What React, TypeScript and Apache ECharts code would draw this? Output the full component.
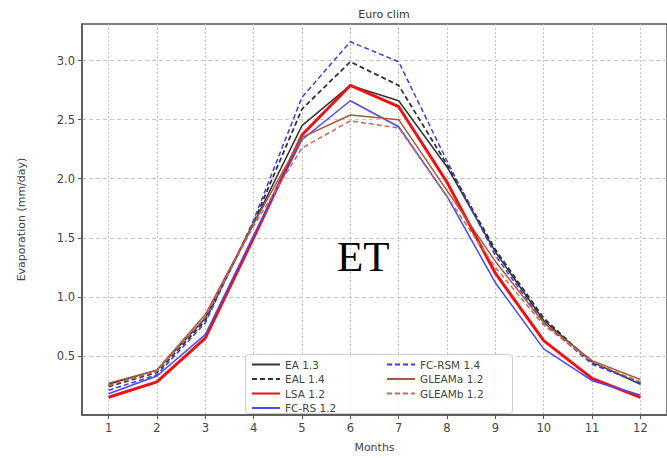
import React, { useEffect, useRef } from "react";
import * as echarts from "echarts";

const months = [1, 2, 3, 4, 5, 6, 7, 8, 9, 10, 11, 12];
const yTicks = [0.5, 1.0, 1.5, 2.0, 2.5, 3.0];

const ea13 = [0.26, 0.38, 0.82, 1.62, 2.45, 2.79, 2.66, 2.1, 1.38, 0.8, 0.45, 0.26];
const eal14 = [0.24, 0.36, 0.8, 1.63, 2.59, 2.99, 2.79, 2.12, 1.4, 0.82, 0.44, 0.27];
const lsa12 = [0.15, 0.28, 0.65, 1.5, 2.37, 2.79, 2.61, 1.97, 1.2, 0.63, 0.31, 0.15];
const fcrs12 = [0.18, 0.33, 0.68, 1.52, 2.33, 2.66, 2.44, 1.85, 1.12, 0.56, 0.29, 0.17];
const fcrsm14 = [0.21, 0.34, 0.78, 1.65, 2.69, 3.16, 2.99, 2.15, 1.35, 0.78, 0.43, 0.27];
const gleamA12 = [0.27, 0.38, 0.85, 1.62, 2.35, 2.54, 2.5, 1.9, 1.3, 0.78, 0.46, 0.3];
const gleamB12 = [0.25, 0.37, 0.83, 1.6, 2.26, 2.49, 2.43, 1.85, 1.25, 0.76, 0.45, 0.28];

const seriesDefs = [
  { name: "EA 1.3", data: ea13, color: "#333333", width: 1.5, type: "solid" },
  { name: "EAL 1.4", data: eal14, color: "#333333", width: 1.8, type: [5, 3] },
  { name: "LSA 1.2", data: lsa12, color: "#ee1111", width: 3, type: "solid" },
  { name: "FC-RS 1.2", data: fcrs12, color: "#4a4af2", width: 1.5, type: "solid" },
  { name: "FC-RSM 1.4", data: fcrsm14, color: "#3c3cee", width: 1.5, type: [5, 3] },
  { name: "GLEAMa 1.2", data: gleamA12, color: "#a65a3c", width: 1.5, type: "solid" },
  { name: "GLEAMb 1.2", data: gleamB12, color: "#c46a5e", width: 1.5, type: [5, 3] },
];

const FONT = "DejaVu Sans";

export default function App() {
  const ref = useRef<HTMLDivElement>(null);
  useEffect(() => {
    if (!ref.current) return;
    const chart = echarts.init(ref.current, null, { renderer: "svg" });
    const legendCommon = {
      orient: "vertical",
      itemWidth: 28,
      itemHeight: 10,
      itemGap: 3.5,
      itemStyle: { opacity: 0 },
      textStyle: { fontFamily: FONT, fontSize: 10.5, color: "#444" },
      padding: 0,
      z: 5,
    };
    chart.setOption({
      animation: false,
      backgroundColor: "#ffffff",
      title: {
        text: "Euro clim",
        left: 379,
        top: 4,
        textAlign: "center",
        textStyle: { fontFamily: FONT, fontSize: 11, fontWeight: "normal", color: "#333" },
      },
      grid: {
        left: 82,
        top: 24,
        width: 597,
        height: 394,
        show: true,
        borderColor: "#555",
        borderWidth: 1.5,
        backgroundColor: "transparent",
      },
      legend: [
        { ...legendCommon, left: 251, top: 359, data: ["EA 1.3", "EAL 1.4", "LSA 1.2", "FC-RS 1.2"] },
        { ...legendCommon, left: 386, top: 359, data: ["FC-RSM 1.4", "GLEAMa 1.2", "GLEAMb 1.2"] },
      ],
      xAxis: {
        type: "value",
        min: 0.45,
        max: 12.55,
        name: "Months",
        nameLocation: "middle",
        nameGap: 27,
        nameTextStyle: { fontFamily: FONT, fontSize: 11, color: "#444" },
        axisLine: { show: true, lineStyle: { color: "#555", width: 1.5 } },
        axisTick: { show: true, customValues: months, length: 4, lineStyle: { color: "#555" } },
        axisLabel: {
          customValues: months,
          fontFamily: FONT,
          fontSize: 11.5,
          color: "#444",
          margin: 7,
        },
        splitLine: { show: true, lineStyle: { color: "#c4c4c4", type: [2, 2], width: 1 } },
      },
      yAxis: {
        type: "value",
        min: 0,
        max: 3.31,
        name: "Evaporation (mm/day)",
        nameLocation: "middle",
        nameGap: 55,
        nameTextStyle: { fontFamily: FONT, fontSize: 11, color: "#444" },
        axisLine: { show: true, lineStyle: { color: "#555", width: 1.5 } },
        axisTick: { show: true, customValues: yTicks, length: 4, lineStyle: { color: "#555" } },
        axisLabel: {
          customValues: yTicks,
          fontFamily: FONT,
          fontSize: 11.5,
          color: "#444",
          margin: 7,
          formatter: (v: number) => v.toFixed(1),
        },
        splitLine: { show: true, lineStyle: { color: "#c4c4c4", type: [4, 3], width: 1 } },
      },
      graphic: [
        {
          type: "rect",
          left: 245,
          top: 354,
          z: 3,
          shape: { width: 267, height: 59, r: 3 },
          style: { fill: "rgba(255,255,255,0.85)", stroke: "#d0d0d0", lineWidth: 1 },
        },
        {
          type: "text",
          left: 337,
          top: 235,
          z: 6,
          style: {
            text: "ET",
            fontFamily: "Liberation Serif",
            fontSize: 43,
            fill: "#000",
          },
        },
      ],
      series: seriesDefs.map((s) => ({
        name: s.name,
        type: "line",
        symbol: "none",
        data: months.map((m, i) => [m, s.data[i]]),
        lineStyle: { color: s.color, width: s.width, type: s.type },
        itemStyle: { color: s.color },
      })),
    });
    return () => chart.dispose();
  }, []);
  return (
    <div
      ref={ref}
      style={{ position: "fixed", left: 0, top: 0, width: 667, height: 458, background: "#fff" }}
    />
  );
}
